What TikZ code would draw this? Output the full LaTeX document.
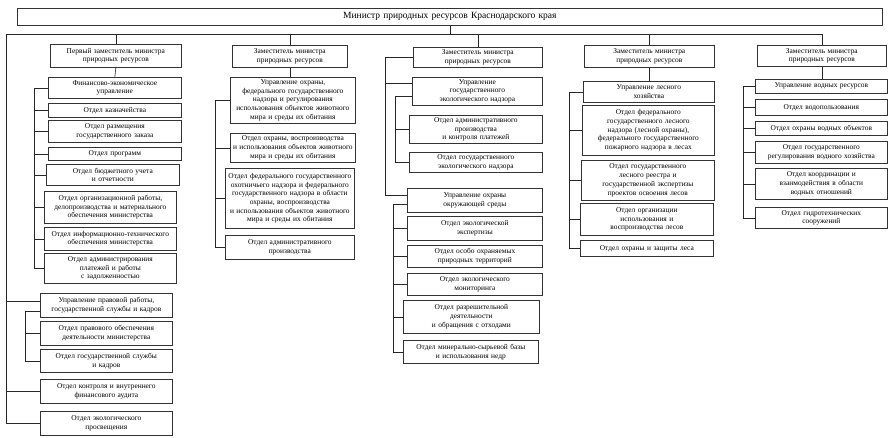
\documentclass[tikz,border=0pt]{standalone}
\usepackage{fontspec}
\setmainfont{Liberation Serif}
\usetikzlibrary{positioning}

\begin{document}
\begin{tikzpicture}[x=1pt, y=-1pt,
    box/.style={draw=black!80, line width=0.7pt, anchor=north west, align=center, inner xsep=1.5pt, inner ysep=1pt, font=\fontsize{7.4}{8.7}\selectfont},
    ln/.style={draw=black!85, line width=0.6pt}
]
\useasboundingbox (0,0) rectangle (893,437);
% minister and deputies
\node[box, text width=862pt, minimum height=17pt, font=\fontsize{9.5}{10.5}\selectfont] (min) at (17,8) {Министр природных ресурсов Краснодарского края};
\node[box, text width=128pt, minimum height=23pt] (d1) at (50,44) {Первый заместитель министра\\природных ресурсов};
\node[box, text width=112pt, minimum height=22pt] (d2) at (232,45) {Заместитель министра\\природных ресурсов};
\node[box, text width=126pt, minimum height=20pt] (d3) at (413,47) {Заместитель министра\\природных ресурсов};
\node[box, text width=127pt, minimum height=22pt] (d4) at (584,45) {Заместитель министра\\природных ресурсов};
\node[box, text width=126pt, minimum height=21pt] (d5) at (757,45) {Заместитель министра\\природных ресурсов};

% first deputy
\node[box, text width=130pt, minimum height=21pt] (f1) at (48,77) {Финансово-экономическое\\управление};
\node[box, text width=130pt, minimum height=14pt] (f2) at (48,103) {Отдел казначейства};
\node[box, text width=130pt, minimum height=22pt] (f3) at (48,120) {Отдел размещения\\государственного заказа};
\node[box, text width=130pt, minimum height=13pt] (f4) at (48,147) {Отдел программ};
\node[box, text width=130pt, minimum height=21pt] (f5) at (46,164) {Отдел бюджетного учета\\и отчетности};
\node[box, text width=129pt, minimum height=32pt] (f6) at (44,191) {Отдел организационной работы,\\делопроизводства и материального\\обеспечения министерства};
\node[box, text width=129pt, minimum height=23pt] (f7) at (44,227) {Отдел информационно-технического\\обеспечения министерства};
\node[box, text width=129pt, minimum height=30pt] (f8) at (44,253) {Отдел администрирования\\платежей и работы\\с задолженностью};

\node[box, text width=129pt, minimum height=24pt] (p1) at (40,293) {Управление правовой работы,\\государственной службы и кадров};
\node[box, text width=129pt, minimum height=24pt] (p2) at (40,321) {Отдел правового обеспечения\\деятельности министерства};
\node[box, text width=129pt, minimum height=23pt] (p3) at (40,349) {Отдел государственной службы\\и кадров};
\node[box, text width=129pt, minimum height=24pt] (p4) at (40,379) {Отдел контроля и внутреннего\\финансового аудита};
\node[box, text width=129pt, minimum height=24pt] (p5) at (40,411) {Отдел экологического\\просвещения};

% second deputy
\node[box, text width=122pt, minimum height=46pt] (g0) at (230,77) {Управление охраны,\\федерального государственного\\надзора и регулирования\\использования объектов животного\\мира и среды их обитания};
\node[box, text width=122pt, minimum height=29pt] (g1) at (230,133) {Отдел охраны, воспроизводства\\и использования объектов животного\\мира и среды их обитания};
\node[box, text width=126pt, minimum height=60pt] (g2) at (225,168) {Отдел федерального государственного\\охотничьего надзора и федерального\\государственного надзора в области\\охраны, воспроизводства\\и использования объектов животного\\мира и среды их обитания};
\node[box, text width=126pt, minimum height=24pt] (g3) at (225,235) {Отдел административного\\производства};

% third deputy
\node[box, text width=127pt, minimum height=28pt] (h0) at (412,77) {Управление\\государственного\\экологического надзора};
\node[box, text width=130pt, minimum height=28pt] (h1) at (409,115) {Отдел административного\\производства\\и контроля платежей};
\node[box, text width=130pt, minimum height=20pt] (h2) at (409,152) {Отдел государственного\\экологического надзора};
\node[box, text width=132pt, minimum height=24pt] (k0) at (407,188) {Управление охраны\\окружающей среды};
\node[box, text width=132pt, minimum height=24pt] (k1) at (407,216) {Отдел экологической\\экспертизы};
\node[box, text width=132pt, minimum height=22pt] (k2) at (407,245) {Отдел особо охраняемых\\природных территорий};
\node[box, text width=132pt, minimum height=22pt] (k3) at (407,273) {Отдел экологического\\мониторинга};
\node[box, text width=133pt, minimum height=33pt] (k4) at (403,300) {Отдел разрешительной\\деятельности\\и обращения с отходами};
\node[box, text width=132pt, minimum height=23pt] (k5) at (403,340) {Отдел минерально-сырьевой базы\\и использования недр};

% fourth deputy
\node[box, text width=128pt, minimum height=21pt] (m0) at (583,81) {Управление лесного\\хозяйства};
\node[box, text width=129pt, minimum height=50pt] (m1) at (582,105) {Отдел федерального\\государственного лесного\\надзора (лесной охраны),\\федерального государственного\\пожарного надзора в лесах};
\node[box, text width=130pt, minimum height=40pt] (m2) at (581,160) {Отдел государственного\\лесного реестра и\\государственной экспертизы\\проектов освоения лесов};
\node[box, text width=130pt, minimum height=32pt] (m3) at (580,203) {Отдел организации\\использования и\\воспроизводства лесов};
\node[box, text width=130pt, minimum height=16pt] (m4) at (580,240) {Отдел охраны и защиты леса};

% fifth deputy
\node[box, text width=129pt, minimum height=14pt] (n0) at (755,79) {Управление водных ресурсов};
\node[box, text width=129pt, minimum height=16pt] (n1) at (755,99) {Отдел водопользования};
\node[box, text width=129pt, minimum height=14pt] (n2) at (755,121) {Отдел охраны водных объектов};
\node[box, text width=129pt, minimum height=22pt] (n3) at (755,141) {Отдел государственного\\регулирования водного хозяйства};
\node[box, text width=129pt, minimum height=31pt] (n4) at (755,168) {Отдел координации и\\взаимодействия в области\\водных отношений};
\node[box, text width=129pt, minimum height=21pt] (n5) at (755,207) {Отдел гидротехнических\\сооружений};

% bus and spines
\coordinate (bus) at (6,34);
\coordinate (s1) at (34,0);
\coordinate (s2) at (25,0);
\coordinate (s3) at (215,0);
\coordinate (t3) at (385,0);
\coordinate (s4) at (395,0);
\coordinate (s5) at (393,0);
\coordinate (s6) at (569,0);
\coordinate (s7) at (743,0);
\coordinate (p1a) at ([yshift=4pt]p1.west);
\coordinate (p1b) at ([yshift=-6pt]p1.west);
\coordinate (h0a) at ([yshift=8pt]h0.west);
\coordinate (h0b) at ([yshift=-5pt]h0.west);
\coordinate (k0a) at ([yshift=5pt]k0.west);
\coordinate (k0b) at ([yshift=-4pt]k0.west);

\draw[ln] (min.south) -- (min.south |- bus);
\draw[ln] (bus) -- (d5.north |- bus);
\foreach \d in {d1,d2,d4,d5} \draw[ln] (\d.north) -- (\d.north |- bus);
\draw[ln] (d3.north) -- (d3.north |- bus);

% first deputy
\draw[ln] (d1.south) -- (f1.north);
\draw[ln] (s1 |- f1.west) -- (s1 |- f8.west);
\foreach \n in {f1,f2,f3,f4,f5,f6,f7,f8} \draw[ln] (s1 |- \n.west) -- (\n.west);
\draw[ln] (bus) -- (bus |- p5.west);
\draw[ln] (bus |- p1a) -- (p1a);
\draw[ln] (bus |- p4.west) -- (p4.west);
\draw[ln] (bus |- p5.west) -- (p5.west);
\draw[ln] (p1b) -- (s2 |- p1b) -- (s2 |- p3.west) -- (p3.west);
\draw[ln] (s2 |- p2.west) -- (p2.west);

% second deputy
\draw[ln] (d2.south) -- (d2.south |- g0.north);
\draw[ln] (s3 |- g0.west) -- (s3 |- g3.west);
\foreach \n in {g0,g1,g2,g3} \draw[ln] (s3 |- \n.west) -- (\n.west);

% third deputy
\draw[ln] (d3.west) -- (t3 |- d3.west) -- (t3 |- k0a) -- (k0a);
\draw[ln] (t3 |- h0a) -- (h0a);
\draw[ln] (h0b) -- (s4 |- h0b) -- (s4 |- h2.west) -- (h2.west);
\draw[ln] (s4 |- h1.west) -- (h1.west);
\draw[ln] (k0b) -- (s5 |- k0b) -- (s5 |- k5.west) -- (k5.west);
\foreach \n in {k1,k2,k3,k4} \draw[ln] (s5 |- \n.west) -- (\n.west);

% fourth deputy
\draw[ln] (d4.south) -- (d4.south |- m0.north);
\draw[ln] (s6 |- m0.west) -- (s6 |- m4.west);
\foreach \n in {m0,m1,m2,m3,m4} \draw[ln] (s6 |- \n.west) -- (\n.west);

% fifth deputy
\draw[ln] (d5.south) -- (d5.south |- n0.north);
\draw[ln] (s7 |- n0.west) -- (s7 |- n5.west);
\foreach \n in {n0,n1,n2,n3,n4,n5} \draw[ln] (s7 |- \n.west) -- (\n.west);
\end{tikzpicture}
\end{document}
